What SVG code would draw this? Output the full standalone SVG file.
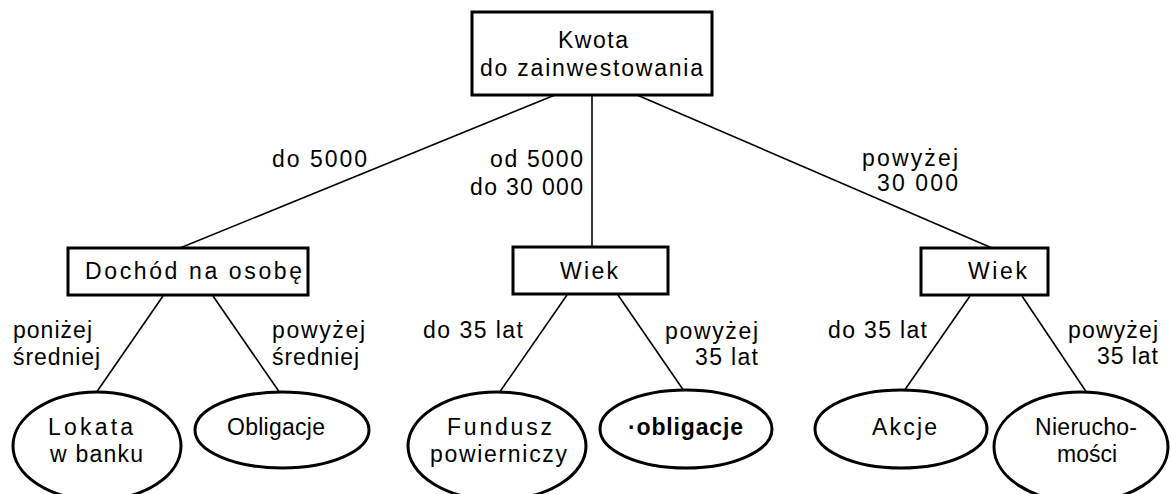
<svg xmlns="http://www.w3.org/2000/svg" width="1171" height="494" viewBox="0 0 1171 494">
<style>
  .box { fill: #fff; stroke: #000; stroke-width: 3; }
  .ell { fill: #fff; stroke: #000; stroke-width: 3; }
  .edge { stroke: #000; stroke-width: 1.6; fill: none; }
  text { font-family: "Liberation Sans", Arial, sans-serif; font-size: 23px; fill: #000; }
  .b { font-weight: bold; }
</style>
<rect width="1171" height="494" fill="#fff"/>
<g id="connectors">
  <line class="edge" x1="555" y1="95" x2="180" y2="248"/>
  <line class="edge" x1="592" y1="95" x2="592" y2="247"/>
  <line class="edge" x1="637" y1="95" x2="992" y2="248"/>
  <line class="edge" x1="163" y1="296" x2="96" y2="393"/>
  <line class="edge" x1="213" y1="296" x2="280" y2="393"/>
  <line class="edge" x1="567" y1="295" x2="499" y2="393"/>
  <line class="edge" x1="618" y1="295" x2="684" y2="391"/>
  <line class="edge" x1="970" y1="296" x2="904" y2="391"/>
  <line class="edge" x1="1022" y1="296" x2="1087" y2="393"/>
</g>
<g id="edge-labels">
  <text x="272" y="167" textLength="95">do 5000</text>
  <text x="490" y="167" textLength="93">od 5000</text>
  <text x="470" y="195" textLength="113">do 30 000</text>
  <text x="862" y="166" textLength="96">powyżej</text>
  <text x="877" y="191" textLength="81">30 000</text>
  <text x="13" y="338" textLength="79">poniżej</text>
  <text x="13" y="365" textLength="87">średniej</text>
  <text x="272" y="338" textLength="93">powyżej</text>
  <text x="272" y="365" textLength="87">średniej</text>
  <text x="423" y="338" textLength="100">do 35 lat</text>
  <text x="665" y="339" textLength="93">powyżej</text>
  <text x="695" y="365" textLength="63">35 lat</text>
  <text x="828" y="338" textLength="99">do 35 lat</text>
  <text x="1068" y="338" textLength="90">powyżej</text>
  <text x="1097" y="364" textLength="61">35 lat</text>
</g>
<g id="node-kwota">
  <rect class="box" x="472" y="12" width="240" height="83"/>
  <text x="558" y="48" textLength="70">Kwota</text>
  <text x="480" y="76" textLength="223">do zainwestowania</text>
</g>
<g id="node-dochod">
  <rect class="box" x="68" y="248" width="240" height="47"/>
  <text x="85" y="279" textLength="217">Dochód na osobę</text>
</g>
<g id="node-wiek1">
  <rect class="box" x="513" y="247" width="155" height="47"/>
  <text x="560" y="279" textLength="58">Wiek</text>
</g>
<g id="node-wiek2">
  <rect class="box" x="921" y="248" width="127" height="47"/>
  <text x="968" y="279" textLength="59">Wiek</text>
</g>
<g id="node-lokata">
  <ellipse class="ell" cx="97" cy="446" rx="84" ry="54"/>
  <text x="48" y="435" textLength="85">Lokata</text>
  <text x="50" y="462" textLength="93">w banku</text>
</g>
<g id="node-obligacje1">
  <ellipse class="ell" cx="282" cy="430" rx="87" ry="38"/>
  <text x="227" y="435" textLength="98">Obligacje</text>
</g>
<g id="node-fundusz">
  <ellipse class="ell" cx="497" cy="446" rx="89" ry="54"/>
  <text x="447" y="435" textLength="105">Fundusz</text>
  <text x="430" y="462" textLength="137">powierniczy</text>
</g>
<g id="node-obligacje2">
  <ellipse class="ell" cx="686" cy="429" rx="86" ry="39"/>
  <text class="b" x="628" y="435" textLength="115">·obligacje</text>
</g>
<g id="node-akcje">
  <ellipse class="ell" cx="901" cy="429" rx="86" ry="39"/>
  <text x="872" y="435" textLength="65">Akcje</text>
</g>
<g id="node-nieruchomosci">
  <ellipse class="ell" cx="1081" cy="447" rx="87" ry="55"/>
  <text x="1035" y="435" textLength="102">Nierucho-</text>
  <text x="1087" y="462" text-anchor="middle">mości</text>
</g>
</svg>
